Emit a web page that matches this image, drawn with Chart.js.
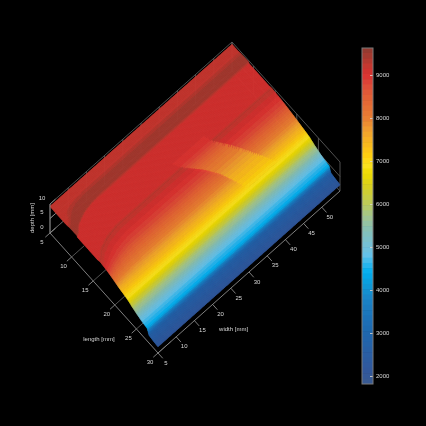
<!DOCTYPE html>
<html>
<head>
<meta charset="utf-8">
<title>Surface</title>
<script src="https://cdn.jsdelivr.net/npm/chart.js@4/dist/chart.umd.min.js"></script>
<style>
  html, body { margin: 0; padding: 0; background: #000; }
  #wrap { position: relative; width: 426px; height: 426px; overflow: hidden; }
  canvas { position: absolute; left: 0; top: 0; }
</style>
</head>
<body>
<div id="wrap">
  <canvas id="surfaceChart" width="426" height="426"></canvas>
  <canvas id="colorBar" width="426" height="426"></canvas>
</div>
<script>
const lengthTicks = [5, 10, 15, 20, 25, 30];
const widthTicks = [5, 10, 15, 20, 25, 30, 35, 40, 45, 50];
const depthTicks = [0, 5, 10];
const colorTicks = [2000, 3000, 4000, 5000, 6000, 7000, 8000, 9000];

// surface: depth [mm] along the length axis
const gridLengths = [5, 6.3, 7.3, 8.8, 9, 10, 11, 12, 13, 13.6, 14.2, 15, 16, 17, 18, 19, 20, 21, 22, 23, 24, 25, 26, 27, 27.5, 27.9, 29, 30];
const baseDepth = [9.18, 9.15, 9.42, 9.48, 9.06, 9.06, 9.06, 9.05, 9.04, 9.02, 9.28, 9.12, 8.98, 8.78, 8.5, 8.2, 7.9, 7.55, 7.2, 6.8, 6.05, 5.45, 4.9, 4.55, 4.4, 2.7, 2.35, 2.15];
// the lighter wedge in the middle of the surface
const wedgeDepth = [9.18, 9.15, 9.42, 9.48, 9.06, 9.06, 9.06, 9.05, 9.0, 8.93, 8.8, 8.55, 8.25, 8.05, 7.85, 7.65, 7.45, 7.3, 7.1, 6.8, 6.05, 5.45, 4.9, 4.55, 4.4, 2.7, 2.35, 2.15];
const wedgeLengths = [12.7, 14.2, 16.4, 18.5, 20.9, 22.5];
const wedgeLow = [29.5, 30.6, 33.5, 35.8, 37.5, 38.5];
const wedgeHigh = [38.2, 38.7, 41, 43, 45.2, 46.5];
// bands bend towards longer lengths near the narrow edge
const bendWidths = [5, 5.5, 6.7, 7.8, 9.4, 11.6, 13];
const bendShift = [2.4, 2.2, 1.3, 0.9, 0.4, 0.1, 0];
const bendRampLengths = [6, 8.5, 17, 21];
const bendRamp = [0, 1, 1, 0];
const nodeWidths = [5, 10, 15, 20, 25, 30, 35, 40, 45, 50, 55];

const colorMin = 1814;
const colorMax = 9628;
const colorLevels = 64;
const colorStopValues = [1814, 2100, 2500, 3000, 3300, 3800, 4100, 4400, 4600, 4800, 5000, 5400, 5700, 6000, 6400, 6700, 6900, 7100, 7400, 7700, 8000, 8400, 8600, 8800, 9000, 9200, 9400, 9628];
const colorStopHex = ["#3a5a90", "#31589c", "#2a5ea4", "#1e68af", "#1c70b8", "#1a85c8", "#0e9ad8", "#00aeef", "#2fb7ee", "#65c2ea", "#73c0d8", "#88c0b4", "#a2c590", "#bdcb5a", "#d8d020", "#eddb00", "#fbe020", "#ffd010", "#f8b820", "#f0a030", "#e87e33", "#e36635", "#df5838", "#dc4638", "#d93030", "#c53830", "#a93a30", "#8e3a30"];

const AXIS_COLOR = "#8c8c8c";
const WALL_COLOR = "#5a5a5a";
const TEXT_COLOR = "#d8d8d8";
const LABEL_FONT = '6px "Liberation Sans"';

function interp(xs, ys, x) {
  if (x <= xs[0]) return ys[0];
  for (let i = 1; i < xs.length; i++) {
    if (x <= xs[i]) {
      return ys[i - 1] + (ys[i] - ys[i - 1]) * (x - xs[i - 1]) / (xs[i] - xs[i - 1]);
    }
  }
  return ys[ys.length - 1];
}

function depthAt(l, w) {
  if (l >= wedgeLengths[0] && l <= wedgeLengths[wedgeLengths.length - 1] &&
      w >= interp(wedgeLengths, wedgeLow, l) && w <= interp(wedgeLengths, wedgeHigh, l)) {
    return interp(gridLengths, wedgeDepth, l);
  }
  const shift = interp(bendWidths, bendShift, w) * interp(bendRampLengths, bendRamp, l);
  return interp(gridLengths, baseDepth, l - shift);
}

// oblique view of (length, width, depth) on to the flat chart scales
function project(l, w, d) {
  return {
    x: 50 + (l - 5) * 4.32 + (w - 5) * 3.64,
    y: 233 + (l - 5) * 4.8 - (w - 5) * 3.24 - 2.9 * d,
  };
}

function hexToRgb(hex) {
  return [1, 3, 5].map((i) => parseInt(hex.slice(i, i + 2), 16));
}

const levelColors = [];
for (let k = 0; k < colorLevels; k++) {
  const v = colorMin + (k + 0.5) * (colorMax - colorMin) / colorLevels;
  const rgbStops = colorStopHex.map(hexToRgb);
  const rgb = [0, 1, 2].map((c) => Math.round(interp(colorStopValues, rgbStops.map((s) => s[c]), v)));
  levelColors.push(`rgb(${rgb[0]},${rgb[1]},${rgb[2]})`);
}

function colorFor(value) {
  const k = Math.floor((value - colorMin) / (colorMax - colorMin) * colorLevels);
  return levelColors[Math.max(0, Math.min(colorLevels - 1, k))];
}

function segments(list) {
  const pts = [];
  list.forEach((seg) => {
    pts.push(project(...seg[0]), project(...seg[1]), { x: null, y: null });
  });
  return pts;
}

const tickW = 55;
const wallSegs = [
  [[5, 5, 10], [5, tickW, 10]],
  [[5, tickW, 10], [30, tickW, 10]],
  [[5, tickW, 0], [30, tickW, 0]],
  [[5, tickW, 5], [30, tickW, 5]],
  [[5, 5, 5], [5, tickW, 5]],
  [[5, tickW, 0], [5, tickW, 10]],
  [[5, 5, 0], [5, tickW, 0]],
];
lengthTicks.forEach((l) => wallSegs.push([[l, tickW, 0], [l, tickW, 10]]));
lengthTicks.forEach((l) => wallSegs.push([[l, 5, 0], [l, 8.5, 0]]));
widthTicks.forEach((w) => wallSegs.push([[5, w, 0], [5, w, 10]]));

const axisSegs = [
  [[5, 5, 0], [30, 5, 0]],
  [[30, 5, 0], [30, tickW, 0]],
  [[5, 5, 0], [5, 5, 10]],
];
lengthTicks.forEach((l) => axisSegs.push([[l, 5, 0], [l, 3.7, 0]]));
widthTicks.forEach((w) => axisSegs.push([[30, w, 0], [31.1, w, 0]]));
depthTicks.forEach((d) => axisSegs.push([[5, 5, d], [5, 6.5, d]]));

const surfaceNodes = [];
gridLengths.forEach((l) => {
  nodeWidths.forEach((w) => surfaceNodes.push(project(l, w, depthAt(l, w))));
});

const surfacePaint = {
  id: "surfacePaint",
  beforeDatasetDraw(chart, args) {
    if (chart.data.datasets[args.index].label !== "surface") return;
    const { ctx, scales } = chart;
    const dl = 0.1;
    const dw = 0.25;
    const nl = Math.round(25 / dl);
    const nw = Math.round(50 / dw);
    const toPixel = (l, w) => {
      const p = project(l, w, depthAt(l, w));
      return [scales.x.getPixelForValue(p.x), scales.y.getPixelForValue(p.y)];
    };
    ctx.save();
    ctx.lineWidth = 0.6;
    for (let i = 0; i < nl; i++) {
      const l0 = 5 + i * dl;
      const l1 = l0 + dl;
      for (let j = nw - 1; j >= 0; j--) {
        const w0 = 5 + j * dw;
        const w1 = w0 + dw;
        const color = colorFor(depthAt(l0 + dl / 2, w0 + dw / 2) * 1000);
        const a = toPixel(l0, w0);
        const b = toPixel(l1, w0);
        const c = toPixel(l1, w1);
        const d = toPixel(l0, w1);
        ctx.fillStyle = color;
        ctx.strokeStyle = color;
        ctx.beginPath();
        ctx.moveTo(a[0], a[1]);
        ctx.lineTo(b[0], b[1]);
        ctx.lineTo(c[0], c[1]);
        ctx.lineTo(d[0], d[1]);
        ctx.closePath();
        ctx.fill();
        ctx.stroke();
      }
    }
    ctx.restore();
  },
};

const axisText = {
  id: "axisText",
  afterDraw(chart) {
    const { ctx, scales } = chart;
    const put = (text, p, dx, dy) => {
      ctx.fillText(text, scales.x.getPixelForValue(p.x) + dx, scales.y.getPixelForValue(p.y) + dy);
    };
    ctx.save();
    ctx.fillStyle = TEXT_COLOR;
    ctx.font = LABEL_FONT;
    ctx.textAlign = "center";
    ctx.textBaseline = "middle";
    lengthTicks.forEach((l) => put(String(l), project(l, 5, 0), -8, 9));
    widthTicks.forEach((w) => put(String(w), project(30, w, 0), 8, 10));
    depthTicks.forEach((d) => put(String(d), project(5, 5, d), -8, -6));
    put("length [mm]", project(26.5, 5, 0), -44, 3);
    put("width [mm]", project(30, 14.5, 0), 41, 7);
    ctx.translate(32, 218);
    ctx.rotate(-Math.PI / 2);
    ctx.fillText("depth [mm]", 0, 0);
    ctx.restore();
  },
};

new Chart(document.getElementById("surfaceChart").getContext("2d"), {
  type: "scatter",
  data: {
    datasets: [
      { label: "axes", data: segments(axisSegs), showLine: true, spanGaps: false, borderColor: AXIS_COLOR, borderWidth: 0.9, pointRadius: 0, order: 0 },
      { label: "surface", data: surfaceNodes, showLine: false, pointRadius: 0, order: 1 },
      { label: "walls", data: segments(wallSegs), showLine: true, spanGaps: false, borderColor: WALL_COLOR, borderWidth: 0.9, pointRadius: 0, order: 2 },
    ],
  },
  options: {
    responsive: false,
    animation: false,
    layout: { padding: 0 },
    scales: {
      x: { type: "linear", min: 0, max: 426, display: false },
      y: { type: "linear", min: 0, max: 426, reverse: true, display: false },
    },
    plugins: { legend: { display: false }, tooltip: { enabled: false } },
  },
  plugins: [surfacePaint, axisText],
});

const colorBands = levelColors.map((color, k) => {
  const step = (colorMax - colorMin) / colorLevels;
  return {
    data: [[colorMin + k * step, colorMin + (k + 1) * step]],
    backgroundColor: color,
    borderWidth: 0,
    barPercentage: 1,
    categoryPercentage: 1,
    grouped: false,
  };
});

const barFrame = {
  id: "barFrame",
  afterDraw(chart) {
    const { ctx, chartArea } = chart;
    ctx.save();
    ctx.strokeStyle = "#7a7a7a";
    ctx.lineWidth = 1;
    ctx.strokeRect(chartArea.left, chartArea.top, chartArea.right - chartArea.left, chartArea.bottom - chartArea.top);
    ctx.restore();
  },
};

new Chart(document.getElementById("colorBar").getContext("2d"), {
  type: "bar",
  data: { labels: ["depth"], datasets: colorBands },
  options: {
    responsive: false,
    animation: false,
    layout: { padding: { left: 362, right: 0, top: 48, bottom: 42 } },
    scales: {
      x: { display: false },
      y: {
        position: "right",
        min: colorMin,
        max: colorMax,
        afterFit(scale) { scale.width = 53; },
        afterBuildTicks(scale) { scale.ticks = colorTicks.map((value) => ({ value })); },
        border: { display: false },
        grid: { drawOnChartArea: false, drawTicks: true, tickLength: -3, color: "#e0d8d0", lineWidth: 0.8, z: 1 },
        ticks: {
          color: TEXT_COLOR,
          font: { family: "Liberation Sans", size: 6 },
          padding: 6,
          align: "center",
          callback: (value) => String(value),
        },
      },
    },
    plugins: { legend: { display: false }, tooltip: { enabled: false } },
  },
  plugins: [barFrame],
});
</script>
</body>
</html>
